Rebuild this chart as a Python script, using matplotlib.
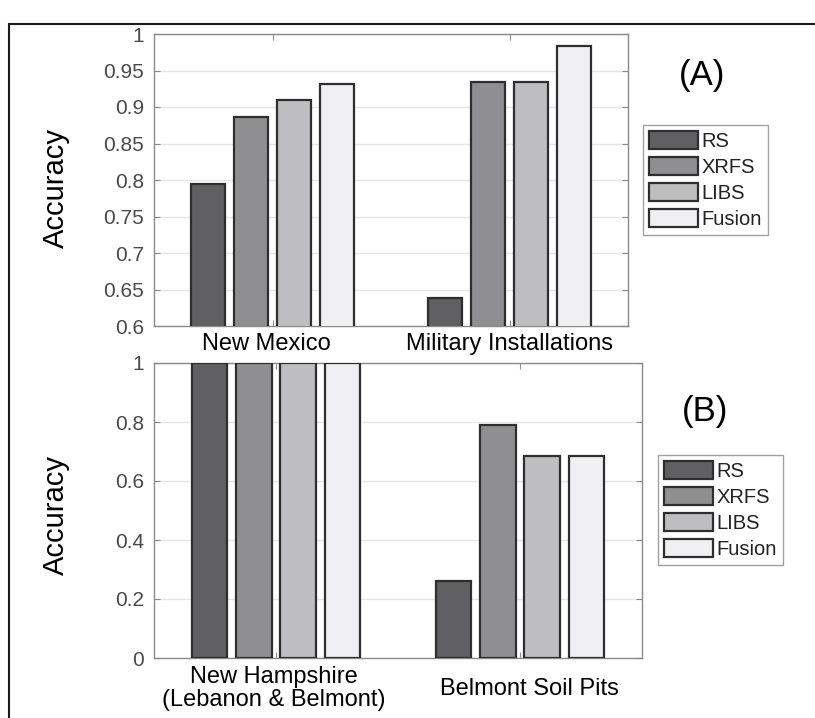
import matplotlib
matplotlib.use("Agg")
import matplotlib.pyplot as plt
import matplotlib.transforms as mtransforms
from matplotlib.patches import Rectangle, Patch
import numpy as np

plt.rcParams['font.family'] = ['Liberation Sans', 'DejaVu Sans']

methods = ['RS', 'XRFS', 'LIBS', 'Fusion']
colors = ['#606062', '#8f8f92', '#bebec1', '#f0f0f2']

cats_a = ['New Mexico', 'Military Installations']
vals_a = {
    'RS':     [0.795, 0.639],
    'XRFS':   [0.886, 0.934],
    'LIBS':   [0.909, 0.934],
    'Fusion': [0.932, 0.983],
}
yticks_a = [0.6, 0.65, 0.7, 0.75, 0.8, 0.85, 0.9, 0.95, 1.0]
yticklabels_a = ['0.6', '0.65', '0.7', '0.75', '0.8', '0.85', '0.9', '0.95', '1']

cats_b = ['New Hampshire\n(Lebanon & Belmont)', 'Belmont Soil Pits']
vals_b = {
    'RS':     [1.0, 0.262],
    'XRFS':   [1.0, 0.789],
    'LIBS':   [1.0, 0.684],
    'Fusion': [1.0, 0.684],
}
yticks_b = [0, 0.2, 0.4, 0.6, 0.8, 1.0]
yticklabels_b = ['0', '0.2', '0.4', '0.6', '0.8', '1']

W, H = 815, 718
fig = plt.figure(figsize=(W / 100, H / 100), dpi=100)
fig.patch.set_facecolor('white')

# outer frame
fig.add_artist(Rectangle((9 / W, -0.05), 1.2, 1 - 24 / H + 0.05,
                         transform=fig.transFigure, fill=False,
                         edgecolor='#1a1a1a', linewidth=1.5))

spine_c = '#8a8a8a'
tick_c = '#4a4a4a'

def px(l, t, r, b):
    return [l / W, 1 - b / H, (r - l) / W, (b - t) / H]

def draw(ax, cats, vals, ylim, yticks, yticklabels, pad, label_offsets):
    n = len(methods)
    gw = min(0.8, n / (n + 1.5))
    step = gw / n
    bw = 0.8 * step
    x = np.arange(1, len(cats) + 1)
    for i, m in enumerate(methods):
        ax.bar(x - gw / 2 + step * (i + 0.5), vals[m], width=bw,
               color=colors[i], edgecolor='#2e2e2e', linewidth=1.6,
               zorder=3, label=m)
    ax.set_xlim(0.5, len(cats) + 0.5)
    ax.set_ylim(*ylim)
    ax.set_yticks(yticks)
    ax.set_yticklabels(yticklabels)
    ax.set_xticks(x)
    ax.set_xticklabels(cats, fontsize=17, color='black', va='center',
                       linespacing=1.05)
    ax.tick_params(axis='x', direction='in', length=4, pad=pad,
                   top=True, color=spine_c)
    ax.tick_params(axis='y', direction='in', length=4, pad=7,
                   right=True, color=spine_c, labelsize=15,
                   labelcolor=tick_c)
    for lab, off in zip(ax.get_xticklabels(), label_offsets):
        lab.set_transform(lab.get_transform() +
                          mtransforms.ScaledTranslation(off / 100, 0, fig.dpi_scale_trans))
    for s in ax.spines.values():
        s.set_color(spine_c)
        s.set_linewidth(1.0)
    ax.yaxis.grid(True, color='#e6e6e6', linewidth=1.0, zorder=0)
    ax.set_axisbelow(True)

axA = fig.add_axes(px(154, 34, 628, 326))
draw(axA, cats_a, vals_a, (0.6, 1.0), yticks_a, yticklabels_a, 13, [-6, 0])
axB = fig.add_axes(px(154, 363, 642, 658))
draw(axB, cats_b, vals_b, (0.0, 1.0), yticks_b, yticklabels_b, 22, [-2, 9])

handles = [Patch(facecolor=c, edgecolor='#2e2e2e', linewidth=1.6) for c in colors]
for (lx, ly) in [(643, 125), (658, 455)]:
    leg = fig.legend(handles, methods, loc='upper left',
                     bbox_to_anchor=(lx / W, 1 - ly / H), fontsize=14.5,
                     frameon=True, fancybox=False, shadow=False,
                     handlelength=2.45, handleheight=1.0, handletextpad=0.15,
                     labelspacing=0.3, borderpad=0.3, borderaxespad=0.0)
    leg.get_frame().set_edgecolor('#8a8a8a')
    leg.get_frame().set_linewidth(1.0)
    for t in leg.get_texts():
        t.set_color('#222222')

fig.text(702 / W, 1 - 75 / H, '(A)', fontsize=25, ha='center', va='center')
fig.text(705 / W, 1 - 412 / H, '(B)', fontsize=25, ha='center', va='center')
fig.text(56 / W, 1 - 188 / H, 'Accuracy', fontsize=21, rotation=90,
         ha='center', va='center')
fig.text(56 / W, 1 - 515 / H, 'Accuracy', fontsize=21, rotation=90,
         ha='center', va='center')

fig.savefig('out.png', dpi=100)
